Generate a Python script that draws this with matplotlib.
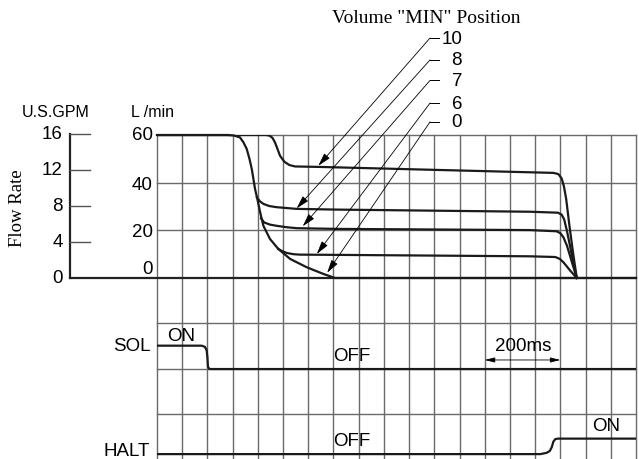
import numpy as np
import matplotlib
matplotlib.use('Agg')
import matplotlib.pyplot as plt

plt.rcParams['font.family'] = ['Liberation Sans', 'DejaVu Sans']
SERIF = 'Liberation Serif'

# time axis in grid divisions (3 div = 200 ms), flow in L/min
# envelope = volume position 0
env_t = [0, 2.82, 3.05, 3.29, 3.43, 3.56, 3.67, 3.76, 3.89, 3.98, 4.09, 4.22,
         4.48, 4.81, 5.28, 5.94, 6.60, 7.06, 19]
env_q = [60, 60, 59.8, 59.0, 56.9, 54.1, 49.9, 45.7, 37.3, 33.2, 27.6, 21.9,
         16.4, 12.2, 8.0, 4.5, 1.7, 0, 0]

# position 10 has its own drop
pos10_t = [0, 4.33, 4.47, 4.58, 4.68, 4.88, 5.05, 5.25, 5.48, 6.47, 15.73, 15.92,
           16.05, 16.14, 16.23, 16.36, 16.50, 16.65]
pos10_q = [60, 60, 59.7, 58.8, 56.9, 51.3, 48.8, 47.4, 46.8, 46.6, 44.1, 43.6,
           41.8, 38.5, 33.2, 21.9, 10.8, 0]

# other positions branch off the envelope
pos8_t = [3.96, 4.08, 4.22, 4.45, 4.75, 5.54, 7.13, 14.80, 15.90, 16.05, 16.15,
          16.26, 16.46, 16.65]
pos8_q = [33.9, 32.2, 31.1, 30.2, 29.7, 29.0, 28.7, 27.8, 27.4, 26.6, 24.6,
          19.8, 9.4, 0]
pos7_t = [4.13, 4.25, 4.48, 4.80, 5.15, 5.54, 7.13, 14.80, 15.85, 16.00, 16.12,
          16.26, 16.46, 16.65]
pos7_q = [25.0, 23.3, 22.4, 21.8, 21.3, 20.9, 20.6, 20.1, 19.6, 18.8, 17.1,
          13.6, 6.6, 0]
pos6_t = [4.81, 4.98, 5.15, 5.40, 5.67, 7.13, 14.80, 15.80, 15.98, 16.12, 16.26,
          16.39, 16.65]
pos6_q = [12.2, 11.2, 10.5, 10.0, 9.8, 9.7, 9.1, 8.8, 8.0, 6.6, 4.8, 3.1, 0]

positions = ['10', '8', '7', '6', '0']
arrow_tips = [(6.40, 47.1), (5.54, 29.2), (5.78, 21.7), (6.34, 10.1), (6.75, 2.2)]

# signal traces (1 = ON, 0 = OFF)
sol_t = [0, 1.77, 1.90, 1.97, 2.00, 2.02, 2.08, 19]
sol_s = [1, 1, 0.95, 0.8, 0.5, 0.1, 0, 0]
halt_t = [0, 15.20, 15.45, 15.58, 15.66, 15.72, 15.80, 15.90, 19]
halt_s = [0, 0, 0.08, 0.2, 0.45, 0.8, 0.97, 1, 1]

gpm_ticks = [0, 4, 8, 12, 16]
lmin_ticks = [0, 20, 40, 60]
LPM_PER_GPM = 3.785

SOL_OFF, SOL_ON = -38.2, -28.4
HALT_OFF, HALT_ON = -73.9, -67.4
lower_grid = [-18.9, -38.2, -57.1]

fig = plt.figure(figsize=(6.39, 4.60), dpi=100)
ax = fig.add_axes([157 / 639, 0, (636 - 157) / 639, (460 - 136) / 460])
ax.set_xlim(0, 19)
ax.set_ylim(-75.95, 60)
ax.axis('off')

grid_c = '#6a6a6a'
for i in range(20):
    ax.plot([i, i], [-75.95, 60], color=grid_c, lw=1.0, zorder=1, clip_on=False)
for y in [60, 40, 20] + lower_grid:
    ax.plot([0, 19], [y, y], color=grid_c, lw=1.0, zorder=1, clip_on=False)

# flow baseline and GPM axis
ax.plot([-3.45, 19], [0, 0], color='#222222', lw=1.6, zorder=2, clip_on=False)
ax.plot([-3.45, -3.45], [0, 16 * LPM_PER_GPM], color='#222222', lw=1.6,
        zorder=2, clip_on=False)
for g in gpm_ticks:
    y = g * LPM_PER_GPM
    if g > 0:
        ax.plot([-3.45, -2.65], [y, y], color='#555555', lw=1.0, clip_on=False)
    ax.text(-3.73, y, str(g), ha='right', va='center', fontsize=13.5)
lmin_label_y = {60: 60.1, 40: 39.4, 20: 19.4, 0: 3.8}
for v in lmin_ticks:
    ax.text(-0.16, lmin_label_y[v], str(v), ha='right', va='center', fontsize=13.5)

ax.text(-4.0, 69.8, 'U.S.GPM', ha='center', va='center', fontsize=11.5)
ax.text(-0.16, 69.8, 'L /min', ha='center', va='center', fontsize=11.5)
ax.text(-5.52, 29.8, 'Flow Rate', rotation=90, ha='center', va='center',
        fontsize=13.5, family=SERIF)
ax.text(10.67, 109.5, 'Volume "MIN" Position', ha='center', va='center',
        fontsize=14, family=SERIF)

# flow curves
lw = 1.6
ax.plot(env_t, env_q, color='#1a1a1a', lw=lw, zorder=3, clip_on=False)
ax.plot(pos10_t, pos10_q, color='#1a1a1a', lw=lw, zorder=3)
for bt, bq in [(pos8_t, pos8_q), (pos7_t, pos7_q), (pos6_t, pos6_q)]:
    ax.plot(bt, bq, color='#1a1a1a', lw=lw, zorder=3)

# leader arrows to each curve
label_y = [100.7, 91.5, 82.9, 73.4, 65.5]
for name, (tx, ty), ly in zip(positions, arrow_tips, label_y):
    ax.annotate('', xy=(tx, ty), xytext=(10.83, ly),
                arrowprops=dict(arrowstyle='-|>,head_length=0.8,head_width=0.22',
                                lw=0.6, color='black', shrinkA=0, shrinkB=0,
                                mutation_scale=10),
                annotation_clip=False, zorder=4)
    ax.plot([10.83, 11.17], [ly, ly], color='black', lw=0.7, clip_on=False)
    ax.text(12.1, ly, name, ha='right', va='center', fontsize=13.5)

# SOL / HALT traces
sol_y = [SOL_OFF + s * (SOL_ON - SOL_OFF) for s in sol_s]
halt_y = [HALT_OFF + s * (HALT_ON - HALT_OFF) for s in halt_s]
ax.plot(sol_t, sol_y, color='#1a1a1a', lw=1.6, zorder=3)
ax.plot(halt_t, halt_y, color='#1a1a1a', lw=1.6, zorder=3)

ax.text(-0.24, SOL_ON, 'SOL', ha='right', va='center', fontsize=13.5)
ax.text(-0.28, -75.9, 'HALT', ha='right', va='bottom', fontsize=13.5)
ax.text(0.95, -24.2, 'ON', ha='center', va='center', fontsize=13.5)
ax.text(7.73, -32.6, 'OFF', ha='center', va='center', fontsize=13.5)
ax.text(7.73, -68.0, 'OFF', ha='center', va='center', fontsize=13.5)
ax.text(17.8, -62.0, 'ON', ha='center', va='center', fontsize=13.5)

ax.annotate('', xy=(13, -34.4), xytext=(16, -34.4),
            arrowprops=dict(arrowstyle='<|-|>,head_length=0.6,head_width=0.15',
                            lw=0.6, color='black', shrinkA=0, shrinkB=0,
                            mutation_scale=10), zorder=4)
ax.text(14.52, -28.5, '200ms', ha='center', va='center', fontsize=13.5)

fig.savefig('out.png', dpi=100)
